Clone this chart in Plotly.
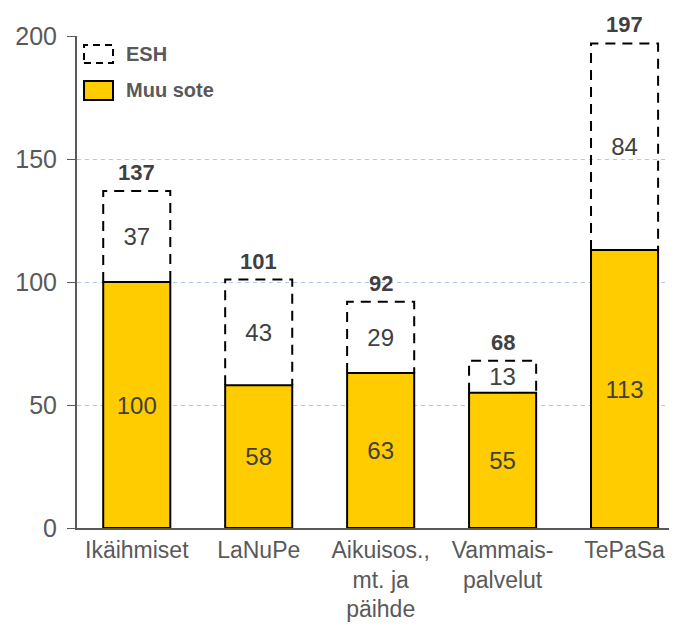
import plotly.graph_objects as go

categories = ["Ikäihmiset", "LaNuPe", "Aikuisos.,<br>mt. ja<br>päihde", "Vammais-<br>palvelut", "TePaSa"]
muu_sote = [100, 58, 63, 55, 113]
esh = [37, 43, 29, 13, 84]
totals = [m + e for m, e in zip(muu_sote, esh)]
y_ticks = [0, 50, 100, 150, 200]

FONT = "Liberation Sans, Arial, sans-serif"
YELLOW = "#FFCC00"
GRAY = "#595959"
DARK = "#404040"
BAR_W = 0.55

idx = list(range(len(categories)))

fig = go.Figure()

# Muu sote bars
fig.add_trace(go.Bar(
    x=idx, y=muu_sote, width=BAR_W,
    marker=dict(color=YELLOW, line=dict(color="#000000", width=2)),
    text=[str(v) for v in muu_sote], textposition="inside", insidetextanchor="middle",
    textangle=0, constraintext="none",
    textfont=dict(family=FONT, size=24, color=DARK),
    showlegend=False, hoverinfo="skip",
))

# ESH bars (transparent fill), outline drawn as dashed line below
fig.add_trace(go.Bar(
    x=idx, y=esh, base=muu_sote, width=BAR_W,
    marker=dict(color="rgba(255,255,255,0)", line=dict(width=0)),
    text=[str(v) for v in esh], textposition="inside", insidetextanchor="middle",
    textangle=0, constraintext="none",
    textfont=dict(family=FONT, size=24, color=DARK),
    showlegend=False, hoverinfo="skip",
))

# dashed outlines of ESH segments built from data
ox, oy = [], []
for i, m, t in zip(idx, muu_sote, totals):
    ox += [i - BAR_W / 2, i - BAR_W / 2, i + BAR_W / 2, i + BAR_W / 2, None]
    oy += [m, t, t, m, None]
fig.add_trace(go.Scatter(
    x=ox, y=oy, mode="lines",
    line=dict(color="#000000", width=2, dash="10px,7px"),
    showlegend=False, hoverinfo="skip", cliponaxis=False,
))

# totals on top
for i, t in zip(idx, totals):
    fig.add_annotation(
        x=i, y=t, text=f"<b>{t}</b>", showarrow=False,
        yanchor="bottom", yshift=4,
        font=dict(family=FONT, size=22, color=DARK),
    )

# custom legend
fig.add_shape(type="rect", xref="paper", yref="paper",
              x0=0.0117, x1=0.06, y0=0.945, y1=0.9817,
              line=dict(color="#000000", width=2, dash="7px,5px"),
              fillcolor="rgba(0,0,0,0)")
fig.add_shape(type="rect", xref="paper", yref="paper",
              x0=0.0117, x1=0.06, y0=0.870, y1=0.9085,
              line=dict(color="#000000", width=2),
              fillcolor=YELLOW)
fig.add_annotation(xref="paper", yref="paper", x=0.078, y=0.9634,
                   text="<b>ESH</b>", showarrow=False, xanchor="left", yanchor="middle",
                   font=dict(family=FONT, size=20, color=GRAY))
fig.add_annotation(xref="paper", yref="paper", x=0.078, y=0.8893,
                   text="<b>Muu sote</b>", showarrow=False, xanchor="left", yanchor="middle",
                   font=dict(family=FONT, size=20, color=GRAY))

fig.update_layout(
    width=669, height=630,
    margin=dict(l=69, r=0, t=28, b=110),
    paper_bgcolor="white", plot_bgcolor="white",
    barmode="overlay",
    font=dict(family=FONT, color=GRAY),
    xaxis=dict(
        range=[-0.49, 4.43],
        tickmode="array", tickvals=idx, ticktext=categories,
        tickfont=dict(family=FONT, size=23, color=GRAY),
        showgrid=False, zeroline=False,
        showline=True, linecolor=GRAY, linewidth=2,
        ticks="", ticklen=0,
    ),
    yaxis=dict(
        range=[0, 200],
        tickmode="array", tickvals=y_ticks,
        tickfont=dict(family=FONT, size=25, color=GRAY),
        ticklabelstandoff=5,
        showgrid=True, gridcolor="#B4C7E7", griddash="4px,4px", gridwidth=1,
        zeroline=False,
        showline=True, linecolor=GRAY, linewidth=2,
        ticks="outside", ticklen=8, tickcolor=GRAY, tickwidth=1,
    ),
)

fig.write_html("out.html")
